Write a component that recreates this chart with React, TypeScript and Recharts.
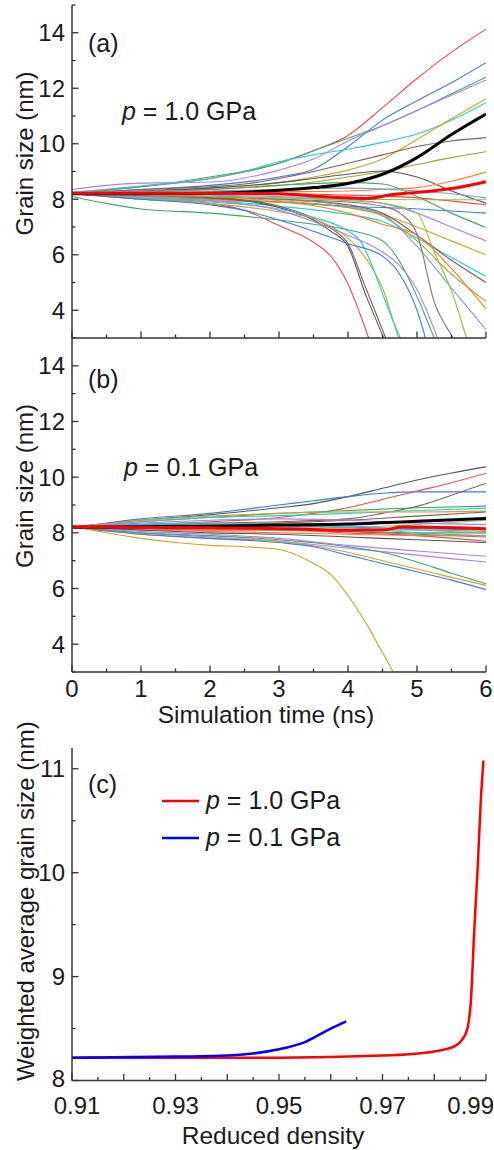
import { LineChart, Line, XAxis, YAxis, Legend } from 'recharts'

const FONT = '"Liberation Sans", Arial, sans-serif'
const INK = '#1a1a1a'
const FRAME = { stroke: '#333333', strokeWidth: 1.5 }

// colours of the single-grain curves
const PAL: Record<string, string> = {
  red: '#f24a4a',
  blue: '#3a7be6',
  green: '#3fa866',
  purple: '#b07ef0',
  cyan: '#1fd0d6',
  gold: '#d2a126',
  brown: '#8a5a55',
  olive: '#a2a22e',
  dgrey: '#555555',
  grey: '#777777',
  orange: '#ff7b22',
  lime: '#8bc53f',
  lblue: '#74a3dc',
}

// ---- (a) p = 1.0 GPa : each grain as [time (ns), size (nm)] points
const grainsA = [
  [[0, 8.25], [1, 8.45], [2, 8.75], [3, 9.3], [3.5, 9.75], [4, 10.3], [4.5, 11.3], [5, 12.35], [5.5, 13.3], [6, 14.13]],
  [[0, 8.2], [1, 8.35], [2, 8.5], [3, 8.8], [3.5, 9.08], [4, 9.9], [4.5, 10.85], [5, 11.55], [5.5, 12.2], [6, 12.92]],
  [[0, 8.2], [1, 8.45], [2, 8.8], [3, 9.3], [3.5, 9.75], [4, 10.2], [4.5, 10.65], [5, 11.2], [5.5, 11.8], [6, 12.4]],
  [[0, 8.35], [0.5, 8.5], [1, 8.58], [2, 8.62], [3, 9.05], [3.5, 9.45], [4, 10.1], [4.5, 10.65], [5, 11.2], [5.5, 11.75], [6, 12.3]],
  [[0, 8.25], [1, 8.48], [2, 8.75], [2.5, 9.0], [3, 9.35], [3.5, 9.6], [4, 9.8], [4.5, 10.05], [5, 10.35], [5.5, 10.85], [6, 11.48]],
  [[0, 8.2], [1, 8.3], [2, 8.4], [3, 8.6], [3.5, 8.8], [4, 9.05], [4.5, 9.45], [5, 10.15], [5.5, 10.9], [6, 11.62]],
  [[0, 8.2], [1, 8.35], [2, 8.45], [2.5, 8.55], [3, 8.75], [3.5, 9.0], [4, 9.3], [4.5, 9.6], [5, 9.9], [5.5, 10.1], [6, 10.22]],
  [[0, 8.2], [1, 8.25], [2, 8.35], [3, 8.5], [3.5, 8.62], [4, 8.8], [4.5, 9.0], [5, 9.25], [5.5, 9.5], [6, 9.71]],
  [[0, 8.2], [1, 8.3], [2, 8.4], [3, 8.6], [3.5, 8.75], [4, 8.9], [4.5, 9.02], [5, 8.8], [5.5, 8.3], [6, 7.86]],
  [[0, 8.2], [1, 8.25], [2, 8.25], [3, 8.27], [4, 8.3], [4.5, 8.35], [5, 8.42], [5.5, 8.65], [6, 8.98]],
  [[0, 8.2], [1, 8.2], [2, 8.2], [3, 8.2], [4, 8.15], [5, 8.05], [6, 7.8]],
  [[0, 8.2], [1, 8.15], [2, 8.1], [3, 8.05], [4, 8.0], [5, 7.98], [6, 7.98]],
  [[0, 8.2], [1, 8.1], [2, 8.0], [3, 7.9], [4, 7.75], [5, 7.65], [6, 7.5]],
  [[0, 8.2], [1, 8.25], [2, 8.35], [3, 8.5], [4, 8.6], [4.5, 8.55], [5, 8.1], [5.5, 7.5], [6, 6.98]],
  [[0, 8.2], [1, 8.2], [2, 8.15], [3, 8.1], [4, 8.0], [4.5, 7.85], [5, 7.5], [5.5, 7.0], [6, 6.5]],
  [[0, 8.2], [1, 8.1], [2, 8.05], [3, 7.95], [4, 7.7], [4.5, 7.45], [5, 7.0], [5.5, 6.5], [6, 6.0]],
  [[0, 8.2], [1, 8.05], [2, 7.95], [3, 7.75], [4, 7.45], [4.5, 7.2], [5, 6.6], [5.5, 5.9], [6, 5.22]],
  [[0, 8.2], [1, 8.15], [2, 8.1], [3, 8.0], [4, 7.8], [4.5, 7.5], [5, 6.7], [5.5, 5.8], [6, 5.0]],
  [[0, 8.2], [1, 8.1], [2, 8.0], [3, 7.9], [4, 7.7], [4.5, 7.4], [5, 6.5], [5.5, 5.3], [6, 4.32]],
  [[0, 8.2], [1, 8.05], [2, 7.95], [3, 7.9], [4, 7.5], [4.5, 7.1], [5, 6.7], [5.5, 5.5], [6, 4.05]],
  [[0, 8.2], [1, 8.15], [2, 8.1], [3, 8.0], [4, 7.75], [4.5, 7.45], [5, 6.3], [5.5, 4.8], [6, 3.3]],
  [[0, 8.2], [0.5, 8.1], [1, 8.0], [1.5, 7.95], [2, 7.85], [2.5, 7.6], [3, 7.05], [3.5, 6.45], [3.75, 5.95], [4, 4.95], [4.25, 3.35], [4.5, 1.5]],
  [[0, 8.2], [1, 8.15], [2, 8.05], [2.5, 7.95], [3, 7.7], [3.5, 7.25], [3.75, 6.85], [4, 6.3], [4.25, 4.6], [4.5, 3.1], [4.75, 1.5]],
  [[0, 8.2], [1, 8.15], [2, 8.05], [2.5, 7.97], [3, 7.75], [3.5, 7.32], [3.75, 6.95], [4, 6.4], [4.25, 4.85], [4.5, 3.3], [4.75, 1.7]],
  [[0, 8.2], [1, 8.0], [2, 7.85], [3, 7.55], [3.5, 7.3], [4, 6.6], [4.25, 5.9], [4.5, 4.8], [4.75, 2.9], [5, 1.5]],
  [[0, 8.2], [1, 8.05], [2, 7.9], [3, 7.65], [3.5, 7.35], [4, 6.85], [4.2, 6.42], [4.35, 5.6], [4.5, 4.6], [4.75, 3.05], [5, 2.0]],
  [[0, 8.2], [1, 8.0], [2, 7.8], [2.5, 7.6], [3, 7.25], [3.5, 6.85], [4, 6.4], [4.5, 5.95], [4.75, 5.3], [5, 4.0], [5.25, 1.8]],
  [[0, 8.1], [0.5, 7.85], [1, 7.65], [2, 7.5], [3, 7.25], [3.5, 7.1], [4, 6.9], [4.5, 6.5], [4.75, 5.75], [5, 4.5], [5.25, 3.0], [5.5, 1.5]],
  [[0, 8.2], [1, 8.1], [2, 7.95], [3, 7.6], [3.5, 7.2], [4, 6.7], [4.5, 6.1], [4.75, 5.6], [5, 4.75], [5.25, 3.3], [5.5, 1.5]],
  [[0, 8.2], [2, 8.1], [3, 8.0], [4, 7.9], [4.5, 7.75], [4.75, 7.5], [5, 6.75], [5.25, 4.3], [5.5, 3.1], [5.75, 2.2]],
  [[0, 8.2], [2, 8.1], [3, 8.05], [4, 7.95], [4.5, 7.85], [5, 7.5], [5.25, 6.1], [5.5, 4.7], [5.75, 2.8], [6, 1.5]],
  [[0, 8.2], [1, 8.3], [2, 8.3], [3, 8.35], [4, 8.4], [5, 8.3], [5.5, 8.2], [6, 8.05]],
]
const coloursA = [
  'red', 'blue', 'green', 'purple', 'cyan', 'gold', 'brown', 'olive', 'dgrey', 'orange',
  'red', 'lime', 'blue', 'green', 'purple', 'gold', 'cyan', 'brown', 'olive', 'orange', 'lblue',
  'red', 'dgrey', 'brown', 'gold', 'cyan', 'blue', 'green', 'purple', 'grey', 'lime',
  'lblue',
]
const blackA = [[0, 8.2], [1, 8.2], [2, 8.22], [3, 8.32], [3.5, 8.42], [4, 8.57], [4.5, 8.9], [5, 9.5], [5.5, 10.33], [6, 11.07]]
const redA = [[0, 8.22], [2, 8.22], [3, 8.2], [3.5, 8.12], [4, 8.05], [4.3, 8.03], [4.6, 8.15], [5.1, 8.27], [5.6, 8.42], [6, 8.63]]

// ---- (b) p = 0.1 GPa
const grainsB = [
  [[0, 8.2], [1, 8.45], [2, 8.65], [3, 8.9], [3.5, 9.05], [4, 9.3], [4.5, 9.6], [5, 9.9], [5.5, 10.15], [6, 10.37]],
  [[0, 8.2], [0.5, 8.35], [1, 8.5], [2, 8.7], [3, 9.0], [3.5, 9.15], [4, 9.3], [4.5, 9.42], [5, 9.47], [6, 9.47]],
  [[0, 8.2], [1, 8.3], [2, 8.4], [3, 8.55], [3.5, 8.7], [4, 8.9], [4.5, 9.2], [5, 9.5], [5.5, 9.8], [6, 10.14]],
  [[0, 8.2], [1, 8.3], [2, 8.35], [3, 8.4], [4, 8.5], [4.5, 8.7], [5, 8.95], [5.5, 9.35], [6, 9.78]],
  [[0, 8.2], [1, 8.4], [2, 8.55], [3, 8.7], [4, 8.8], [5, 8.9], [6, 8.96]],
  [[0, 8.2], [1, 8.4], [2, 8.55], [3, 8.62], [4, 8.7], [5, 8.8], [6, 8.88]],
  [[0, 8.2], [1, 8.45], [2, 8.6], [3, 8.7], [4, 8.75], [5, 8.75], [6, 8.78]],
  [[0, 8.2], [1, 8.25], [2, 8.3], [3, 8.35], [4, 8.45], [5, 8.6], [6, 8.75]],
  [[0, 8.2], [2, 8.2], [4, 8.2], [5, 8.3], [6, 8.45]],
  [[0, 8.2], [1, 8.3], [2, 8.3], [3, 8.25], [4, 8.2], [5, 8.15], [6, 8.1]],
  [[0, 8.2], [1, 8.15], [2, 8.1], [3, 8.1], [4, 8.05], [5, 8.0], [6, 8.0]],
  [[0, 8.2], [1, 8.25], [2, 8.2], [3, 8.15], [4, 8.05], [5, 7.95], [6, 7.85]],
  [[0, 8.2], [1, 8.1], [2, 8.1], [3, 8.1], [4, 8.0], [5, 7.9], [6, 7.7]],
  [[0, 8.2], [1, 8.3], [2, 8.35], [3, 8.3], [4, 8.2], [5, 8.0], [6, 7.9]],
  [[0, 8.2], [1, 8.2], [2, 8.15], [3, 8.15], [4, 8.1], [5, 8.1], [6, 8.05]],
  [[0, 8.2], [1, 8.1], [2, 8.05], [3, 8.0], [4, 7.95], [5, 7.9], [6, 7.9]],
  [[0, 8.2], [1, 8.25], [2, 8.3], [3, 8.3], [4, 8.25], [5, 8.1], [6, 8.0]],
  [[0, 8.2], [1, 8.1], [2, 8.0], [3, 7.95], [4, 7.85], [5, 7.75], [6, 7.65]],
  [[0, 8.2], [1, 8.35], [2, 8.45], [3, 8.5], [4, 8.45], [5, 8.35], [6, 8.3]],
  [[0, 8.2], [1, 8.05], [2, 7.95], [3, 7.8], [4, 7.55], [5, 7.35], [6, 7.16]],
  [[0, 8.2], [1, 8.0], [2, 7.85], [3, 7.7], [4, 7.45], [5, 7.2], [6, 6.95]],
  [[0, 8.2], [1, 8.0], [2, 7.9], [3, 7.75], [4, 7.5], [4.5, 7.3], [5, 6.95], [5.5, 6.55], [6, 6.17]],
  [[0, 8.2], [1, 7.95], [2, 7.8], [3, 7.7], [4, 7.3], [4.5, 7.0], [5, 6.7], [5.5, 6.4], [6, 6.11]],
  [[0, 8.2], [1, 7.95], [2, 7.8], [3, 7.65], [3.5, 7.5], [4, 7.2], [4.5, 6.9], [5, 6.6], [5.5, 6.3], [6, 5.96]],
  [[0, 8.25], [0.5, 8.0], [1, 7.8], [1.5, 7.65], [2, 7.55], [2.5, 7.5], [3, 7.4], [3.5, 6.9], [3.75, 6.5], [4, 5.75], [4.25, 4.8], [4.5, 3.7], [4.75, 2.6], [5, 1.8]],
]
const coloursB = [
  'dgrey', 'blue', 'red', 'brown', 'green', 'cyan', 'gold', 'brown', 'lime',
  'blue', 'green', 'grey', 'red', 'cyan', 'olive', 'orange', 'lblue', 'dgrey', 'purple',
  'purple', 'purple', 'green', 'gold', 'blue', 'gold',
]
const blackB = [[0, 8.2], [1, 8.22], [2, 8.24], [3, 8.28], [4, 8.32], [5, 8.42], [6, 8.52]]
const redB = [[0, 8.22], [1, 8.2], [2, 8.18], [3, 8.15], [3.5, 8.12], [4, 8.1], [4.5, 8.1], [4.8, 8.22], [5.2, 8.2], [5.6, 8.18], [6, 8.15]]

// ---- (c) weighted average grain size vs reduced density
const densityHi = [0.91, 0.93, 0.95, 0.97, 0.98, 0.984, 0.9855, 0.9864, 0.9871, 0.9877, 0.9884, 0.989, 0.9895]
const sizeHi = [8.22, 8.22, 8.22, 8.24, 8.28, 8.33, 8.4, 8.5, 8.78, 9.42, 10.06, 10.7, 11.08]
const densityLo = [0.91, 0.93, 0.94, 0.945, 0.95, 0.955, 0.96, 0.963]
const sizeLo = [8.22, 8.23, 8.24, 8.26, 8.3, 8.37, 8.5, 8.57]
const legendOrder = ['1.0', '0.1']

// ticks
const timeTicks = [0, 0.5, 1, 1.5, 2, 2.5, 3, 3.5, 4, 4.5, 5, 5.5, 6]
const timeLabels = [0, 1, 2, 3, 4, 5, 6]
const grainTicks = [3, 4, 5, 6, 7, 8, 9, 10, 11, 12, 13, 14, 15]
const grainLabels = [4, 6, 8, 10, 12, 14]
const densityTicks = [0.91, 0.915, 0.92, 0.925, 0.93, 0.935, 0.94, 0.945, 0.95, 0.955, 0.96, 0.965, 0.97, 0.975, 0.98, 0.985, 0.99]
const densityMajor = [0.91, 0.92, 0.93, 0.94, 0.95, 0.96, 0.97, 0.98, 0.99]
const densityLabels = [0.91, 0.93, 0.95, 0.97, 0.99]
const avgTicks = [8, 8.5, 9, 9.5, 10, 10.5, 11]
const avgLabels = [8, 9, 10, 11]

const rows = (pts: number[][]) => pts.map(([t, v]) => ({ t, v }))
const near = (list: number[], v: number) => list.some(a => Math.abs(a - v) < 1e-6)

type Side = 'left' | 'right' | 'top' | 'bottom'

// inward tick marks, drawn from the axis line that recharts hands us (tickSize 0, tickMargin 0)
function axisTicks(side: Side, majors: number[], labels: number[], fmt: (v: number) => string, gap = 0, size = 24, edgeNudge = false) {
  return (props: any) => {
    const { x, y, payload } = props
    const v = payload.value
    const len = near(majors, v) ? 6.5 : 3.5
    let mark
    if (side === 'bottom') mark = <line x1={x} y1={y} x2={x} y2={y - len} />
    else if (side === 'top') mark = <line x1={x} y1={y} x2={x} y2={y + len} />
    else if (side === 'left') mark = <line x1={x} y1={y} x2={x + len} y2={y} />
    else mark = <line x1={x} y1={y} x2={x - len} y2={y} />
    let label = null
    if (near(labels, v)) {
      const last = edgeNudge && Math.abs(v - labels[labels.length - 1]) < 1e-6
      const first = edgeNudge && Math.abs(v - labels[0]) < 1e-6
      if (side === 'bottom')
        label = (
          <text
            x={last ? x + 8 : first ? x + 5 : x}
            y={y + gap}
            textAnchor={last ? 'end' : 'middle'}
            fontFamily={FONT}
            fontSize={size}
            fill={INK}
          >
            {fmt(v)}
          </text>
        )
      else if (side === 'left')
        label = (
          <text x={x - 7} y={y + gap - (first ? 2.5 : 0)} textAnchor="end" fontFamily={FONT} fontSize={size} fill={INK}>
            {fmt(v)}
          </text>
        )
    }
    return (
      <g>
        <g stroke="#333333" strokeWidth={1.3}>{mark}</g>
        {label}
      </g>
    )
  }
}

function xTitle(text: string, dx: number, dy: number, size: number) {
  return (p: any) => {
    const vb = p.viewBox || { x: 0, y: 0, width: 0, height: 0 }
    return (
      <text x={vb.x + vb.width / 2 + dx} y={vb.y + dy} textAnchor="middle" fontFamily={FONT} fontSize={size} fill={INK}>
        {text}
      </text>
    )
  }
}

function yTitle(text: string, baseX: number, dy: number, size: number) {
  return (p: any) => {
    const vb = p.viewBox || { x: 0, y: 0, width: 0, height: 0 }
    const cx = vb.x + baseX
    const cy = vb.y + vb.height / 2 + dy
    return (
      <text x={cx} y={cy} transform={`rotate(-90 ${cx} ${cy})`} textAnchor="middle" fontFamily={FONT} fontSize={size} fill={INK}>
        {text}
      </text>
    )
  }
}

interface GrainPanelProps {
  top: number
  height: number
  padTop: number
  xHeight: number
  grains: number[][][]
  colours: string[]
  black: number[][]
  red: number[][]
  tag: string
  tagY: number
  pressure: string
  pX: number
  pY: number
  titleDy: number
  withTime: boolean
}

function GrainPanel(p: GrainPanelProps) {
  return (
    <div style={{ position: 'absolute', left: 0, top: p.top }}>
      <LineChart width={494} height={p.height} margin={{ top: p.padTop, right: 8, bottom: 0, left: 0 }}>
        <XAxis
          dataKey="t"
          type="number"
          domain={[0, 6]}
          ticks={timeTicks}
          interval={0}
          allowDataOverflow
          height={p.xHeight}
          tickSize={0}
          tickMargin={0}
          tickLine={false}
          axisLine={FRAME}
          tick={axisTicks('bottom', timeLabels, p.withTime ? timeLabels : [], v => String(v), 24.7, 24)}
          label={p.withTime ? { content: xTitle('Simulation time (ns)', -13, 51, 24.5) } : undefined}
        />
        <XAxis
          xAxisId="top"
          orientation="top"
          dataKey="t"
          type="number"
          domain={[0, 6]}
          ticks={timeTicks}
          interval={0}
          height={0}
          tickSize={0}
          tickMargin={0}
          tickLine={false}
          axisLine={FRAME}
          tick={axisTicks('top', timeLabels, [], String)}
        />
        <YAxis
          type="number"
          domain={[3, 15]}
          ticks={grainTicks}
          interval={0}
          allowDataOverflow
          width={72}
          tickSize={0}
          tickMargin={0}
          tickLine={false}
          axisLine={FRAME}
          tick={axisTicks('left', grainLabels, grainLabels, String, 8.6, 24)}
          label={{ content: yTitle('Grain size (nm)', 33, p.titleDy, 24) }}
        />
        <YAxis
          yAxisId="right"
          orientation="right"
          type="number"
          domain={[3, 15]}
          ticks={grainTicks}
          interval={0}
          width={0}
          tickSize={0}
          tickMargin={0}
          tickLine={false}
          axisLine={FRAME}
          tick={axisTicks('right', grainLabels, [], String)}
        />
        {p.grains.map((g, i) => (
          <Line
            key={i}
            data={rows(g)}
            dataKey="v"
            type="monotone"
            stroke={PAL[p.colours[i]]}
            strokeWidth={1.1}
            dot={false}
            activeDot={false}
            isAnimationActive={false}
          />
        ))}
        <Line data={rows(p.black)} dataKey="v" type="monotone" stroke="#000000" strokeWidth={3} dot={false} activeDot={false} isAnimationActive={false} />
        <Line data={rows(p.red)} dataKey="v" type="monotone" stroke="#ff0000" strokeWidth={3} dot={false} activeDot={false} isAnimationActive={false} />
        <text x={88} y={p.tagY} fontFamily={FONT} fontSize={25} fill={INK}>
          {p.tag}
        </text>
        <text x={p.pX} y={p.pY} fontFamily={FONT} fontSize={25} fill={INK}>
          <tspan fontStyle="italic">p</tspan> = {p.pressure} GPa
        </text>
      </LineChart>
    </div>
  )
}

const legendContent = (props: any) => {
  const items = [...(props.payload || [])].sort((a: any, b: any) => legendOrder.indexOf(a.value) - legendOrder.indexOf(b.value))
  return (
    <div style={{ fontFamily: FONT, fontSize: 25, color: INK }}>
      {items.map((e: any) => (
        <div key={e.value} style={{ display: 'flex', alignItems: 'center', height: 37, whiteSpace: 'nowrap' }}>
          <svg width={37} height={4} style={{ display: 'block' }}>
            <line x1={0} y1={2} x2={37} y2={2} stroke={e.color} strokeWidth={2.5} />
          </svg>
          <span style={{ marginLeft: 7 }}>
            <i>p</i> = {e.value} GPa
          </span>
        </div>
      ))}
    </div>
  )
}

function DensityPanel() {
  const hi = densityHi.map((d, i) => ({ d, v: sizeHi[i] }))
  const lo = densityLo.map((d, i) => ({ d, v: sizeLo[i] }))
  return (
    <div style={{ position: 'absolute', left: 0, top: 700 }}>
      <LineChart width={494} height={450} margin={{ top: 48, right: 8, bottom: 0, left: 0 }}>
        <XAxis
          dataKey="d"
          type="number"
          domain={[0.91, 0.99]}
          ticks={densityTicks}
          interval={0}
          allowDataOverflow
          height={69.5}
          tickSize={0}
          tickMargin={0}
          tickLine={false}
          axisLine={FRAME}
          tick={axisTicks('bottom', densityMajor, densityLabels, v => v.toFixed(2), 33, 24, true)}
          label={{ content: xTitle('Reduced density', -6, 63, 24.5) }}
        />
        <XAxis
          xAxisId="top"
          orientation="top"
          dataKey="d"
          type="number"
          domain={[0.91, 0.99]}
          ticks={densityTicks}
          interval={0}
          height={0}
          tickSize={0}
          tickMargin={0}
          tickLine={false}
          axisLine={FRAME}
          tick={axisTicks('top', densityMajor, [], String)}
        />
        <YAxis
          type="number"
          domain={[8, 11.2]}
          ticks={avgTicks}
          interval={0}
          allowDataOverflow
          width={72}
          tickSize={0}
          tickMargin={0}
          tickLine={false}
          axisLine={FRAME}
          tick={axisTicks('left', avgLabels, avgLabels, String, 8.6, 24, true)}
          label={{ content: yTitle('Weighted average grain size (nm)', 34, -13, 24) }}
        />
        <YAxis
          yAxisId="right"
          orientation="right"
          type="number"
          domain={[8, 11.2]}
          ticks={avgTicks}
          interval={0}
          width={0}
          tickSize={0}
          tickMargin={0}
          tickLine={false}
          axisLine={FRAME}
          tick={axisTicks('right', avgLabels, [], String)}
        />
        <Legend
          layout="vertical"
          align="center"
          verticalAlign="middle"
          wrapperStyle={{ left: 162, top: 82, width: 260 }}
          content={legendContent}
        />
        <Line name="1.0" data={hi} dataKey="v" type="monotone" stroke="#ff0000" strokeWidth={2.5} dot={false} activeDot={false} isAnimationActive={false} />
        <Line name="0.1" data={lo} dataKey="v" type="monotone" stroke="#0000ff" strokeWidth={2.5} dot={false} activeDot={false} isAnimationActive={false} />
        <text x={88} y={93} fontFamily={FONT} fontSize={25} fill={INK}>
          (c)
        </text>
      </LineChart>
    </div>
  )
}

export default function App() {
  return (
    <div style={{ position: 'absolute', left: 0, top: 0, width: 494, height: 1150, background: '#ffffff', fontFamily: FONT }}>
      <GrainPanel
        top={0}
        height={345}
        padTop={5}
        xHeight={7}
        grains={grainsA}
        colours={coloursA}
        black={blackA}
        red={redA}
        tag="(a)"
        tagY={52}
        pressure="1.0"
        pX={122}
        pY={120}
        titleDy={-18}
        withTime={false}
      />
      <GrainPanel
        top={338}
        height={400}
        padTop={0}
        xHeight={66}
        grains={grainsB}
        colours={coloursB}
        black={blackB}
        red={redB}
        tag="(b)"
        tagY={50}
        pressure="0.1"
        pX={124}
        pY={138}
        titleDy={-19}
        withTime={true}
      />
      <DensityPanel />
    </div>
  )
}
